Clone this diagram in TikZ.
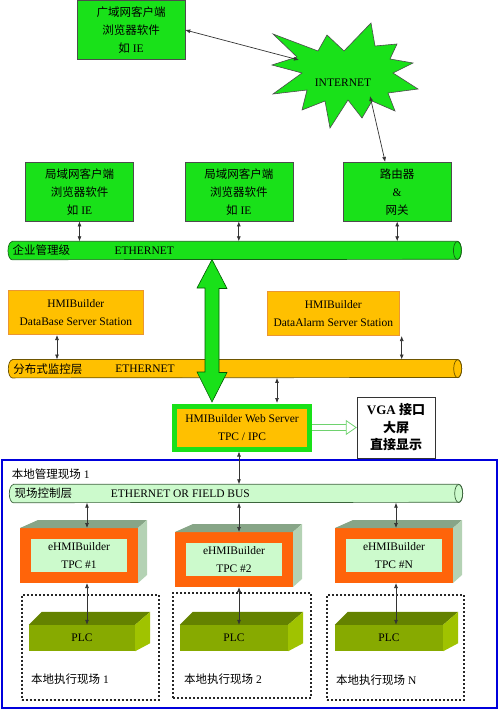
\documentclass[tikz,border=0pt]{standalone}
\usepackage{fontspec}
\setmainfont{Liberation Serif}
\newfontfamily\cjk{Noto Sans CJK SC}
\usetikzlibrary{arrows.meta,positioning,calc}
\newcommand{\zh}[1]{{\cjk #1}}
\definecolor{netgreen}{RGB}{25,225,25}
\definecolor{srvorange}{RGB}{255,192,0}
\definecolor{srvedge}{RGB}{235,150,50}
\definecolor{pipegreen}{RGB}{20,100,20}
\definecolor{pipebrown}{RGB}{110,85,0}
\definecolor{pipedark}{RGB}{60,100,60}
\definecolor{palegreen}{RGB}{204,250,204}
\definecolor{tpcorange}{RGB}{255,100,10}
\definecolor{tpcfacec}{RGB}{135,165,135}
\definecolor{tpcsidec}{RGB}{180,210,180}
\definecolor{plcfrontc}{RGB}{135,170,0}
\definecolor{plctopc}{RGB}{100,130,0}
\definecolor{plcsidec}{RGB}{160,195,0}
\definecolor{sitebl}{RGB}{0,0,220}
\definecolor{hollowgreen}{RGB}{110,210,110}
\begin{document}
\begin{tikzpicture}[x=1pt,y=-1pt,font=\fontsize{11.5}{18}\selectfont,
 gbox/.style={draw=black!70,fill=netgreen,align=center,inner sep=0pt,minimum width=108pt,minimum height=59pt},
 obox/.style={draw=srvedge,fill=srvorange,align=center,inner sep=0pt,minimum width=135pt,minimum height=44pt},
 pipe/.style={inner sep=0pt,minimum width=453pt,minimum height=18pt},
 lbl/.style={inner sep=0pt},
 arr/.style={{Latex[length=5pt,width=4pt]}-{Latex[length=5pt,width=4pt]},draw=black!80,line width=0.7pt},
 web/.style={draw=netgreen,fill=srvorange,line width=5pt,align=center,inner sep=0pt,minimum width=135pt,minimum height=43pt},
 vga/.style={draw=black!80,fill=white,align=center,inner sep=0pt,minimum width=78pt,minimum height=61pt,font=\fontsize{13}{17.5}\selectfont\bfseries},
 tpc/.style={draw=tpcorange,fill=palegreen,line width=11pt,align=center,inner sep=0pt,minimum width=107pt,minimum height=44pt},
 tpctop/.style={fill=tpcfacec},
 tpcside/.style={fill=tpcsidec},
 plc/.style={fill=plcfrontc,inner sep=0pt,minimum width=106pt,minimum height=26pt},
 plctop/.style={fill=plctopc},
 plcside/.style={fill=plcsidec},
 dotbox/.style={draw=black!85,line width=2pt,dash pattern=on 2pt off 2pt,minimum width=137pt,minimum height=105pt},
 burst/.style={fill=netgreen,draw=black!70,line width=0.6pt},
 bigarr/.style={fill=netgreen,draw=green!35!black,line width=0.6pt},
 hollowarr/.style={draw=hollowgreen,double=white,double distance=5pt,line width=0.8pt,-{Triangle[open,length=11pt,width=15pt]}}]
\useasboundingbox (0,0) rectangle (499,711);
\node[draw=sitebl,line width=2.5pt,minimum width=495pt,minimum height=248pt] (site) at (249.5,584) {};
\draw[burst] (273,34) -- (318,51) -- (327,35) -- (344,51) -- (371,23) -- (375,46) -- (397,44) -- (390,59) -- (413,63) -- (393,73) -- (418,89) -- (388,93) -- (395,111) -- (372,101) -- (362,118) -- (348,100) -- (330,128) -- (325,101) -- (302,110) -- (307,90) -- (273,94) -- (302,73) -- (272,65) -- (297,57) -- cycle;
\node[lbl] (inet) at (343,83) {INTERNET};
\coordinate (inetnw) at (299,60);
\coordinate (inetse) at (370,96);
\node[gbox] (wan) at (131,30) {\zh{广域网客户端}\\\zh{浏览器软件}\\\zh{如} IE};
\node[gbox] (lan1) at (79.5,191.7) {\zh{局域网客户端}\\\zh{浏览器软件}\\\zh{如} IE};
\node[gbox] (lan2) at (238.8,191.7) {\zh{局域网客户端}\\\zh{浏览器软件}\\\zh{如} IE};
\node[gbox] (router) at (397.2,191.7) {\zh{路由器}\\\&\\\zh{网关}};
\node[pipe] (entpipe) at (234.7,250.5) {};
\node[pipe] (monpipe) at (235,368.7) {};
\node[pipe] (fieldpipe) at (236,493.5) {};
\foreach \p/\c/\d in {entpipe/netgreen/pipegreen,monpipe/srvorange/pipebrown,fieldpipe/palegreen/pipedark}{
  \filldraw[fill=\c,draw=\d,line width=0.7pt] ([xshift=4pt]\p.north west) -- ([xshift=-4pt]\p.north east)
    arc[start angle=90,end angle=-90,x radius=4pt,y radius=9pt] -- ([xshift=4pt]\p.south west)
    arc[start angle=270,end angle=90,x radius=4pt,y radius=9pt] -- cycle;
  \draw[\d,line width=0.7pt] ([xshift=-4pt]\p.east) ellipse[x radius=4pt,y radius=9pt];
}
\node[lbl,right=4.5pt of entpipe.west] (entlbl) {\zh{企业管理级}};
\node[lbl,right=44pt of entlbl] (entnet) {ETHERNET};
\node[obox] (dbsrv) at (75.8,312.2) {HMIBuilder\\DataBase Server Station};
\node[obox,minimum width=132pt] (almsrv) at (333.3,313.3) {HMIBuilder\\DataAlarm Server Station};
\node[lbl,right=4.8pt of monpipe.west] (monlbl) {\zh{分布式监控层}};
\node[lbl,right=32.6pt of monlbl] (monnet) {ETHERNET};
\coordinate (bigtop) at (212,259.5);
\coordinate (bigbot) at (212,402);
\draw[bigarr] (bigtop) -- ++(15,29) -- ++(-8,0) -- ++(0,84) -- ++(8,0) -- (bigbot) -- ++(-15,-30) -- ++(8,0) -- ++(0,-84) -- ++(-8,0) -- cycle;
\node[web] (web) at (242,427.5) {HMIBuilder Web Server\\TPC / IPC};
\node[vga] (vga) at (396,427.5) {VGA \zh{接口}\\\zh{大屏}\\\zh{直接显示}};
\node[lbl,anchor=west] (sitelbl) at (11.7,474) {\zh{本地管理现场} 1};
\node[lbl,right=5pt of fieldpipe.west] (fieldlbl) {\zh{现场控制层}};
\node[lbl,right=38.5pt of fieldlbl] (fieldnet) {ETHERNET OR FIELD BUS};
\node[tpc] (tpc1) at (79,555.5) {eHMIBuilder\\TPC \#1};
\node[tpc] (tpc2) at (234,559.5) {eHMIBuilder\\TPC \#2};
\node[tpc] (tpc3) at (394,555.5) {eHMIBuilder\\TPC \#N};
\foreach \b in {tpc1,tpc2,tpc3}{
  \fill[tpctop] (\b.north west) -- ++(18,-8) -- ($(\b.north east)+(9,-8)$) -- (\b.north east) -- cycle;
  \fill[tpcside] (\b.north east) -- ++(9,-8) -- ($(\b.south east)+(9,-8)$) -- (\b.south east) -- cycle;
}
\node[dotbox] (exec1) at (90,647) {};
\node[dotbox,minimum width=138pt] (exec2) at (242,645.5) {};
\node[dotbox] (exec3) at (395.5,647.5) {};
\node[plc] (plc1) at (82,638) {PLC};
\node[plc,minimum width=108pt] (plc2) at (234,638) {PLC};
\node[plc,minimum width=108pt] (plc3) at (389,638) {PLC};
\foreach \b in {plc1,plc2,plc3}{
  \fill[plctop] (\b.north west) -- ++(13,-13) -- ($(\b.north east)+(15,-13)$) -- (\b.north east) -- cycle;
  \fill[plcside] (\b.north east) -- ++(15,-13) -- ($(\b.south east)+(15,-8)$) -- (\b.south east) -- cycle;
}
\node[lbl,anchor=west] (exec1lbl) at (31,679) {\zh{本地执行现场} 1};
\node[lbl,anchor=west] (exec2lbl) at (184,679) {\zh{本地执行现场} 2};
\node[lbl,anchor=west] (exec3lbl) at (336,680) {\zh{本地执行现场} N};
\coordinate (dbport) at (57,335);
\coordinate (almport) at (401.7,336);
\coordinate (webport) at (277,403);
\coordinate (col1) at (87,0);
\coordinate (col2) at (239,0);
\coordinate (col3) at (396,0);
\draw[arr] (wan.east) -- (inetnw);
\draw[arr] (inetse) -- ([xshift=-12pt]router.north);
\draw[arr] (lan1.south) -- (lan1.south |- entpipe.north);
\draw[arr] (lan2.south) -- (lan2.south |- entpipe.north);
\draw[arr] (router.south) -- (router.south |- entpipe.north);
\draw[arr] (dbport) -- (dbport |- monpipe.north);
\draw[arr] (almport) -- (almport |- monpipe.north);
\draw[arr] (monpipe.south -| webport) -- (webport);
\draw[hollowarr] (web.east) -- (vga.west);
\draw[arr] (web.south -| col2) -- (fieldpipe.north -| col2);
\draw[arr] (fieldpipe.south -| col1) -- (tpc1.north -| col1);
\draw[arr] (fieldpipe.south -| col2) -- (tpc2.north -| col2);
\draw[arr] (fieldpipe.south -| col3) -- (tpc3.north -| col3);
\draw[arr] (tpc1.south -| col1) -- (plc1.north -| col1);
\draw[arr] (tpc2.south -| col2) -- (plc2.north -| col2);
\draw[arr] (tpc3.south -| col3) -- (plc3.north -| col3);
\end{tikzpicture}
\end{document}
